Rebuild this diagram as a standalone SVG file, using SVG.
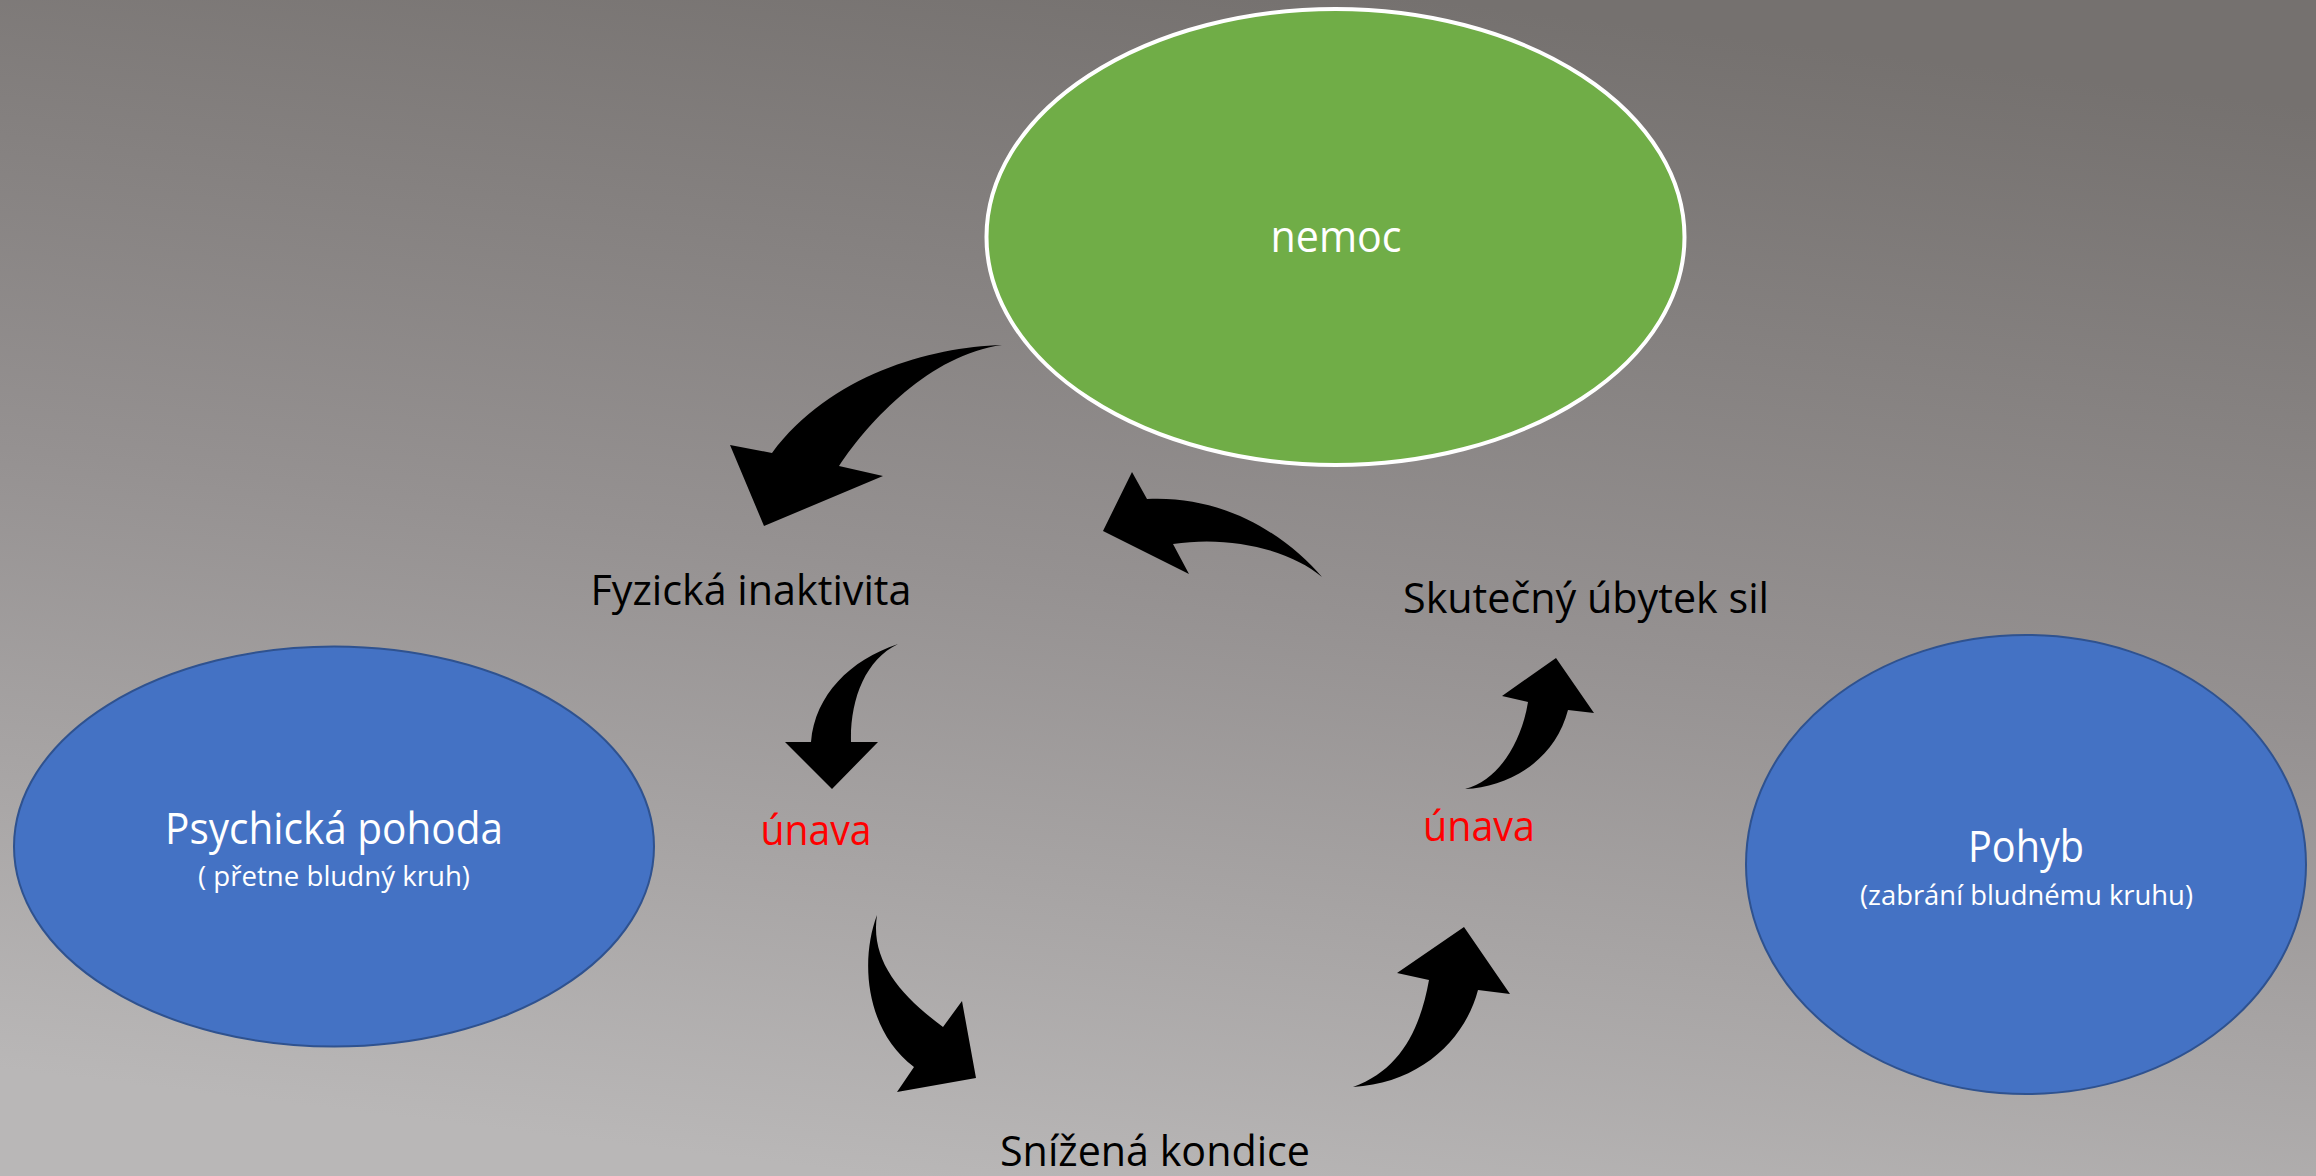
<svg xmlns="http://www.w3.org/2000/svg" width="2316" height="1176" viewBox="0 0 2316 1176">
  <defs>
    <linearGradient id="bg" x1="0.62" y1="0" x2="0.38" y2="1">
      <stop offset="0" stop-color="#75716f"/>
      <stop offset="0.5" stop-color="#959191"/>
      <stop offset="1" stop-color="#b9b7b7"/>
    </linearGradient>
    <style>
      .lbl { font-family: "Open Sans", "Liberation Sans", sans-serif; text-anchor: middle; }
      .dark { fill: #000000; font-size: 42px; }
      .red { fill: #ff0000; font-size: 42px; }
      .white { fill: #ffffff; }
      .big { font-size: 43px; }
      .small { font-size: 28px; }
      .arrow { fill: #000000; stroke: none; }
      .blue { fill: #4472c4; stroke: #2f528f; stroke-width: 2; }
      .green { fill: #70ad47; stroke: #ffffff; stroke-width: 4; }
    </style>
  </defs>
  <rect x="0" y="0" width="2316" height="1176" fill="url(#bg)"/>

  <g id="node-nemoc">
    <ellipse class="green" cx="1335.5" cy="237" rx="349" ry="228"/>
    <text class="lbl white big" x="1336" y="252" textLength="131" lengthAdjust="spacingAndGlyphs">nemoc</text>
  </g>

  <g id="node-psychicka">
    <ellipse class="blue" cx="334" cy="846.5" rx="320" ry="200"/>
    <text class="lbl white big" x="334" y="844" textLength="338" lengthAdjust="spacingAndGlyphs">Psychická pohoda</text>
    <text class="lbl white small" x="334" y="886" textLength="272" lengthAdjust="spacingAndGlyphs">( přetne bludný kruh)</text>
  </g>

  <g id="node-pohyb">
    <ellipse class="blue" cx="2026" cy="864.5" rx="280" ry="229.5"/>
    <text class="lbl white big" x="2026" y="862" textLength="116" lengthAdjust="spacingAndGlyphs">Pohyb</text>
    <text class="lbl white small" x="2026.5" y="905" textLength="333" lengthAdjust="spacingAndGlyphs">(zabrání bludnému kruhu)</text>
  </g>

  <g id="node-fyzicka">
    <text class="lbl dark" x="751" y="605" textLength="321" lengthAdjust="spacingAndGlyphs">Fyzická inaktivita</text>
  </g>

  <g id="node-skutecny">
    <text class="lbl dark" x="1586" y="613" textLength="366" lengthAdjust="spacingAndGlyphs">Skutečný úbytek sil</text>
  </g>

  <g id="node-unava-left">
    <text class="lbl red" x="816" y="845" textLength="111" lengthAdjust="spacingAndGlyphs">únava</text>
  </g>

  <g id="node-unava-right">
    <text class="lbl red" x="1479" y="841" textLength="112" lengthAdjust="spacingAndGlyphs">únava</text>
  </g>

  <g id="node-snizena">
    <text class="lbl dark" x="1155" y="1166" textLength="310" lengthAdjust="spacingAndGlyphs">Snížená kondice</text>
  </g>

  <g id="connectors">
    <path class="arrow" d="M 1002,345 C 930,347 830,375 772,453 L 730,445 L 764,526 L 883,476 L 839,466 C 870,420 930,355 1002,345 Z"/>
    <path class="arrow" d="M 1322,577 C 1290,540 1230,495 1147,499 L 1132,472 L 1103,531 L 1189,574 L 1173,544 C 1230,535 1290,550 1322,577 Z"/>
    <path class="arrow" d="M 898,644 C 850,660 815,695 811,742 L 785,742 L 832,789 L 878,742 L 851,742 C 850,700 865,660 898,644 Z"/>
    <path class="arrow" d="M 1465,789 C 1510,787 1555,760 1568,710 L 1594,713 L 1556,658 L 1502,696 L 1528,702 C 1522,740 1500,780 1465,789 Z"/>
    <path class="arrow" d="M 877,915 C 860,960 865,1030 914,1067 L 897,1092 L 976,1078 L 962,1001 L 943,1027 C 900,995 870,960 877,915 Z"/>
    <path class="arrow" d="M 1353,1087 C 1420,1083 1465,1040 1478,990 L 1510,994 L 1464,927 L 1397,973 L 1429,980 C 1420,1030 1400,1070 1353,1087 Z"/>
  </g>
</svg>
